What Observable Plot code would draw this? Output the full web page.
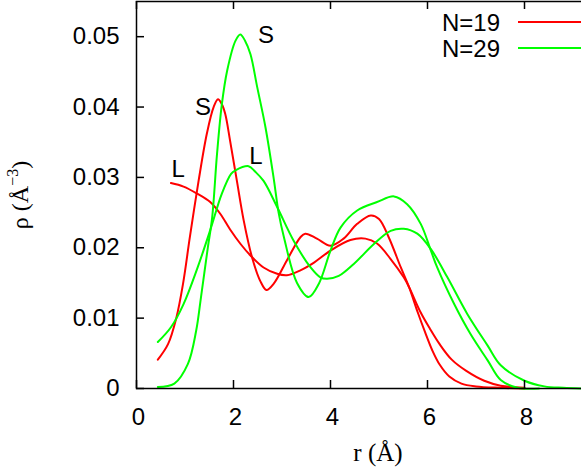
<!DOCTYPE html>
<html><head><meta charset="utf-8">
<script src="https://cdn.jsdelivr.net/npm/d3@7"></script>
<script src="https://cdn.jsdelivr.net/npm/@observablehq/plot@0.6"></script>
<style>html,body{margin:0;padding:0;overflow:hidden;background:#fff;width:581px;height:467px}#chart{width:581px;height:467px;overflow:hidden}</style>
</head><body><div id="chart"></div>
<script>
// ---- data ----
const xTicks = [0, 2, 4, 6, 8];
const yTicks = [0, 0.01, 0.02, 0.03, 0.04, 0.05];
const yTickLabels = ["0", "0.01", "0.02", "0.03", "0.04", "0.05"];
const seriesNames = ["N=19", "N=29"];
const seriesColors = ["#ff0000", "#00ff00"];
const xLabel = "r (Å)";

// N=19, S structure  [r, rho]
const n19S = [[0.44,0.0041],[0.65,0.0063],[0.82,0.0100],[0.96,0.0149],[1.10,0.0215],[1.28,0.0295],[1.45,0.0362],[1.59,0.0400],[1.68,0.0411],[1.76,0.0404],[1.83,0.0390],[1.93,0.0352],[2.07,0.0295],[2.21,0.0239],[2.38,0.0187],[2.55,0.0153],[2.68,0.0140],[2.83,0.0149],[3.10,0.0182],[3.38,0.0215],[3.48,0.0220],[3.72,0.0213],[4.00,0.0203],[4.27,0.0213],[4.55,0.0234],[4.83,0.0246],[5.00,0.0241],[5.20,0.0215],[5.45,0.0172],[5.62,0.0144],[5.80,0.0108],[5.95,0.0080],[6.10,0.0054],[6.25,0.0034],[6.45,0.0017],[6.70,0.0007],[7.00,0.0003],[7.50,0.0001],[8.00,0.0000]];
// N=19, L structure
const n19L = [[0.71,0.0292],[0.97,0.0287],[1.25,0.0277],[1.52,0.0265],[1.73,0.0248],[1.93,0.0226],[2.15,0.0205],[2.35,0.0189],[2.62,0.0172],[2.90,0.0163],[3.10,0.0161],[3.38,0.0168],[3.66,0.0179],[4.00,0.0196],[4.41,0.0211],[4.72,0.0213],[4.96,0.0206],[5.24,0.0184],[5.51,0.0158],[5.62,0.0144],[5.86,0.0108],[6.05,0.0085],[6.25,0.0063],[6.50,0.0041],[6.80,0.0025],[7.17,0.0011],[7.51,0.0004],[8.00,0.0001]];
// N=29, S structure
const n29S = [[0.44,0.0002],[0.78,0.0007],[1.06,0.0035],[1.23,0.0082],[1.33,0.0130],[1.47,0.0200],[1.56,0.0243],[1.66,0.0333],[1.76,0.0404],[1.87,0.0452],[2.04,0.0494],[2.14,0.0503],[2.24,0.0494],[2.35,0.0475],[2.49,0.0428],[2.66,0.0371],[2.83,0.0298],[2.93,0.0250],[3.04,0.0215],[3.31,0.0150],[3.55,0.0130],[3.76,0.0149],[4.00,0.0196],[4.21,0.0229],[4.55,0.0253],[4.96,0.0265],[5.31,0.0273],[5.58,0.0262],[5.86,0.0234],[6.07,0.0196],[6.20,0.0172],[6.55,0.0120],[6.89,0.0077],[7.24,0.0040],[7.51,0.0012],[7.86,0.0001],[8.30,0.0000]];
// N=29, L structure
const n29L = [[0.44,0.0066],[0.71,0.0087],[0.97,0.0120],[1.25,0.0170],[1.52,0.0225],[1.76,0.0277],[1.95,0.0305],[2.04,0.0310],[2.31,0.0316],[2.45,0.0308],[2.62,0.0295],[2.90,0.0258],[3.24,0.0210],[3.59,0.0172],[3.79,0.0158],[3.93,0.0156],[4.17,0.0160],[4.48,0.0177],[4.89,0.0205],[5.24,0.0224],[5.51,0.0227],[5.79,0.0220],[6.07,0.0198],[6.41,0.0158],[6.82,0.0106],[7.24,0.0061],[7.51,0.0033],[8.00,0.0011],[8.41,0.0003],[8.80,0.0001],[9.20,0.0000]];

// curve annotations (data coordinates)
const curveLabels = [
  {text: "S", x: 1.37, y: 0.0399},
  {text: "S", x: 2.67, y: 0.0502},
  {text: "L", x: 0.86, y: 0.0311},
  {text: "L", x: 2.46, y: 0.0330}
];

// ---- table ----
const curves = [
  {key: "N=19 S", series: "N=19", pts: n19S},
  {key: "N=19 L", series: "N=19", pts: n19L},
  {key: "N=29 S", series: "N=29", pts: n29S},
  {key: "N=29 L", series: "N=29", pts: n29L}
];
const rows = curves.flatMap(c => c.pts.map(([r, rho]) => ({r, rho, key: c.key, series: c.series})));

// ---- layout ----
const W = 621, H = 467, ML = 136, MR = 0, MT = 1, MB = 79;
const innerW = W - ML - MR, innerH = H - MT - MB;
const sans = "'Liberation Sans', Arial, Helvetica, sans-serif";
const serif = "'Liberation Serif', 'Times New Roman', Times, serif";

const chart = Plot.plot({
  width: W, height: H,
  marginLeft: ML, marginRight: MR, marginTop: MT, marginBottom: MB,
  style: {fontFamily: sans, fontSize: "24px", background: "#fff", color: "#000", maxWidth: "none", overflow: "visible"},
  x: {domain: [0, 10]},
  y: {domain: [0, 0.055]},
  color: {domain: seriesNames, range: seriesColors},
  marks: [
    Plot.line(rows, {x: "r", y: "rho", z: "key", stroke: "series", strokeWidth: 2, curve: "catmull-rom"}),
    Plot.frame({stroke: "#000", strokeWidth: 1.5}),
    Plot.ruleX(xTicks, {x: d => d, insetTop: innerH - 8, stroke: "#000", strokeWidth: 1.5}),
    Plot.ruleX(xTicks, {x: d => d, insetBottom: innerH - 8, stroke: "#000", strokeWidth: 1.5}),
    Plot.ruleY(yTicks, {y: d => d, insetRight: innerW - 8, stroke: "#000", strokeWidth: 1.5}),
    Plot.axisX({ticks: xTicks, tickSize: 0, tickPadding: 19, fontSize: 24, label: null, dx: 2, tickFormat: d => String(d)}),
    Plot.axisY({ticks: yTicks, tickSize: 0, tickPadding: 17, fontSize: 24, label: null, tickFormat: d => yTickLabels[yTicks.indexOf(d)]}),
    Plot.text(curveLabels, {x: "x", y: "y", text: "text", fontSize: 24, fill: "#000"})
  ]
});

document.getElementById("chart").appendChild(chart);

// axis titles and legend
const svg = d3.select(chart);
svg.append("text")
  .attr("x", 378).attr("y", 461)
  .attr("text-anchor", "middle")
  .attr("font-family", serif).attr("font-size", 25).attr("fill", "#000")
  .text(xLabel);

const yl = svg.append("text")
  .attr("transform", "translate(28,195) rotate(-90)")
  .attr("text-anchor", "middle")
  .attr("font-family", serif).attr("font-size", 24).attr("fill", "#000");
yl.append("tspan").text("ρ (Å");
yl.append("tspan").attr("font-size", 16).attr("dy", -10).text("−3");
yl.append("tspan").attr("dy", 10).text(")");

seriesNames.forEach((name, i) => {
  const yb = 31 + i * 26;
  svg.append("text")
    .attr("x", 500).attr("y", yb)
    .attr("text-anchor", "end")
    .attr("font-family", sans).attr("font-size", 24).attr("fill", "#000")
    .text(name);
  svg.append("line")
    .attr("x1", 518).attr("x2", 600)
    .attr("y1", yb - 9).attr("y2", yb - 9)
    .attr("stroke", seriesColors[i]).attr("stroke-width", 2);
});
</script>
</body></html>
